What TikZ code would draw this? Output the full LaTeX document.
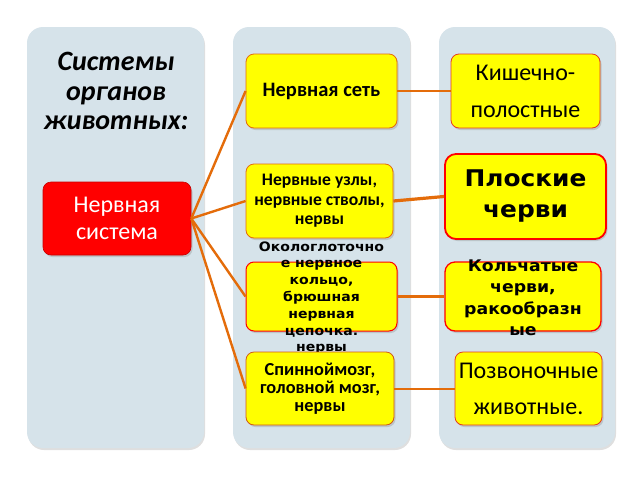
\documentclass[tikz,border=0pt]{standalone}
\usepackage{fontspec}
\setmainfont{Carlito}
\newfontfamily\calf{Carlito}
\newfontfamily\dvs[FakeStretch=1.08]{DejaVu Sans}
\usetikzlibrary{shadows}
\definecolor{panelc}{RGB}{214,227,234}
\definecolor{conc}{RGB}{228,108,10}
\definecolor{ybox}{RGB}{255,255,0}
\begin{document}
\begin{tikzpicture}[x=1pt,y=-1pt,
  panel/.style={fill=panelc,rounded corners=16pt,drop shadow={opacity=0.25,shadow xshift=1pt,shadow yshift=-2pt}},
  ybox/.style={draw=conc,line width=0.8pt,fill=ybox,rounded corners=8pt,inner sep=0pt,
     drop shadow={opacity=0.3,shadow xshift=1.5pt,shadow yshift=-2pt}},
  rbox/.style={ybox,draw=red,line width=1.3pt},
  conn/.style={draw=conc,line width=2.4pt},
  txt/.style={align=center,inner sep=0pt}]
\useasboundingbox (0,0) rectangle (640,480);
\fill[white] (0,0) rectangle (640,480);
\path[panel] (27,27) rectangle (204,448);
\path[panel] (233,27) rectangle (410,448);
\path[panel] (439,27) rectangle (615,448);
% title
\node[txt,font=\calf\bfseries\itshape\fontsize{28}{29.5}\selectfont] (title) at (116,91) {Системы\\органов\\животных:};
% red
\node[ybox,fill=red,draw={rgb,255:red,200;green,0;blue,0},line width=0.6pt,minimum width=148pt,minimum height=73pt] (red) at (117,218.5) {};
\node[txt,text=white,font=\calf\fontsize{24}{27}\selectfont] (redt) at (red.center) {Нервная\\система};
% middle
\node[ybox,minimum width=151pt,minimum height=74pt] (b1) at (321.5,91) {};
\node[txt,font=\calf\bfseries\fontsize{20.5}{20}\selectfont] (b1t) at (b1.center) {Нервная сеть};
\node[ybox,minimum width=147pt,minimum height=74pt] (b2) at (319.5,201) {};
\node[txt,font=\calf\bfseries\fontsize{17.6}{19.5}\selectfont] (b2t) at (b2.center) {Нервные узлы,\\нервные стволы,\\нервы};
\node[rbox,line width=1pt,minimum width=151pt,minimum height=69pt] (b3) at (321.5,296.5) {};
\node[txt,font=\dvs\bfseries\fontsize{13}{16.8}\selectfont] (b3t) at (321.5,298) {Окологлоточно\\е нервное\\кольцо,\\брюшная\\нервная\\цепочка.\\нервы};
\node[ybox,draw={rgb,255:red,210;green,90;blue,20},minimum width=148pt,minimum height=73pt] (b4) at (320,388.5) {};
\node[txt,font=\calf\bfseries\fontsize{18.3}{18.3}\selectfont] (b4t) at (b4.center) {Спинноймозг,\\головной мозг,\\нервы};
% right
\node[ybox,draw={rgb,255:red,230;green,60;blue,30},minimum width=149pt,minimum height=74pt] (k1) at (525.5,91) {};
\node[txt,font=\calf\fontsize{24}{37}\selectfont] (k1t) at (k1.center) {Кишечно-\\полостные};
\node[rbox,line width=1.8pt,rounded corners=11pt,minimum width=161pt,minimum height=85pt] (k2) at (525.5,196.5) {};
\node[txt,font=\dvs\bfseries\fontsize{23}{31}\selectfont] (k2t) at (k2.center) {Плоские\\черви};
\node[rbox,rounded corners=10pt,minimum width=156pt,minimum height=69pt] (k3) at (523,296.5) {};
\node[txt,font=\dvs\bfseries\fontsize{16}{21.5}\selectfont] (k3t) at (523,298) {Кольчатые\\черви,\\ракообразн\\ые};
\node[ybox,draw={rgb,255:red,230;green,60;blue,30},minimum width=147pt,minimum height=73pt] (k4) at (528.5,388.5) {};
\node[txt,font=\calf\fontsize{24}{36}\selectfont] (k4t) at (k4.center) {Позвоночные\\животные.};
% connectors
\draw[conn] (red.east) -- (b1.west);
\draw[conn] (red.east) -- (b2.west);
\draw[conn] (red.east) -- (b3.west);
\draw[conn] (red.east) -- (b4.west);
\draw[conn] (b1.east) -- (k1.west);
\draw[conn,line width=3.2pt] (b2.east) -- (k2.west);
\draw[conn] (b3.east) -- (k3.west);
\draw[conn,line width=2pt] (b4.east) -- (k4.west);
\end{tikzpicture}
\end{document}
